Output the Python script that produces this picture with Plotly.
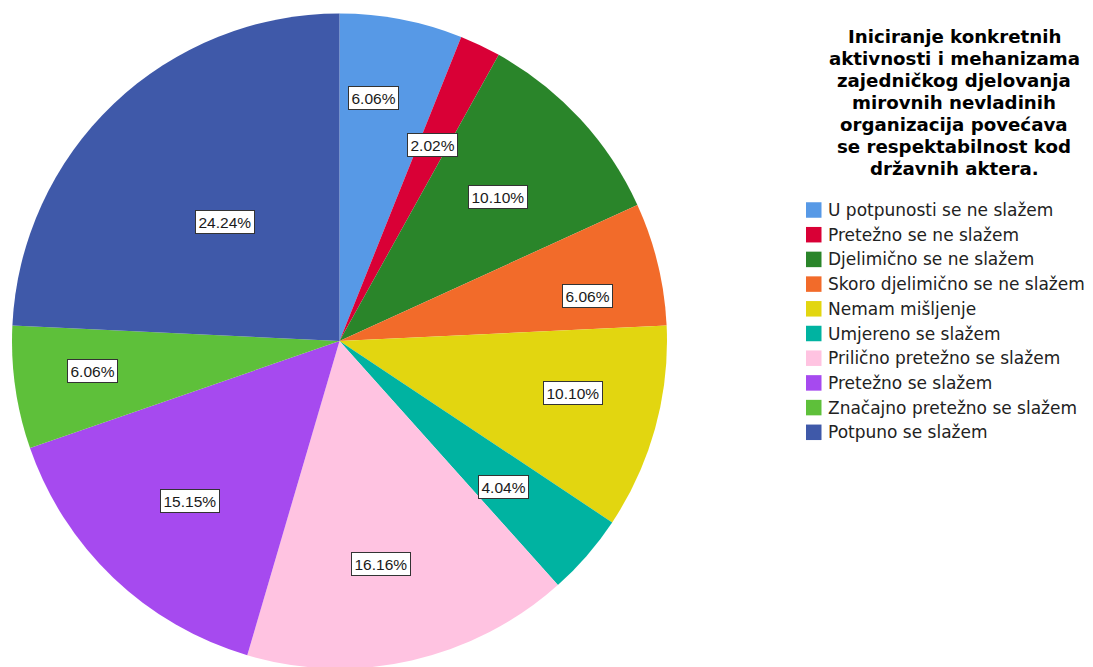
import math
import plotly.graph_objects as go

categories = [
    "U potpunosti se ne slažem",
    "Pretežno se ne slažem",
    "Djelimično se ne slažem",
    "Skoro djelimično se ne slažem",
    "Nemam mišljenje",
    "Umjereno se slažem",
    "Prilično pretežno se slažem",
    "Pretežno se slažem",
    "Značajno pretežno se slažem",
    "Potpuno se slažem",
]
percentages = [6.06, 2.02, 10.10, 6.06, 10.10, 4.04, 16.16, 15.15, 6.06, 24.24]
colors = ["#5799e6", "#d90036", "#2a852a", "#f26b2a", "#e2d610",
          "#00b3a1", "#ffc3e1", "#a64aef", "#5ec03a", "#3f59a9"]
title_lines = [
    "Iniciranje konkretnih",
    "aktivnosti i mehanizama",
    "zajedničkog djelovanja",
    "mirovnih nevladinih",
    "organizacija povećava",
    "se respektabilnost kod",
    "državnih aktera.",
]
# placement of the value boxes: fraction of radius and angular nudge (degrees)
label_r = [0.748, 0.663, 0.653, 0.769, 0.730, 0.672, 0.693, 0.669, 0.760, 0.504]
label_dtheta = [-2.9, 0.0, 0.5, 3.3, -2.8, 0.8, 2.3, -0.7, 1.2, -0.2]

W, H = 1093, 667
dom_x = [0.00366, 0.60293]
dom_y = [0.00975, 0.99175]

fig = go.Figure(go.Pie(
    labels=categories,
    values=percentages,
    sort=False,
    direction="clockwise",
    rotation=0,
    textinfo="none",
    marker=dict(colors=colors, line=dict(width=0)),
    domain=dict(x=dom_x, y=dom_y),
    hoverinfo="label+percent",
    showlegend=False,
))

# geometry of the pie in pixels
cx = (dom_x[0] + dom_x[1]) / 2 * W
cy = H - (dom_y[0] + dom_y[1]) / 2 * H
R = min((dom_x[1] - dom_x[0]) * W, (dom_y[1] - dom_y[0]) * H) / 2

FONT = "Liberation Sans, Arial, sans-serif"
WIDE = "DejaVu Sans, Verdana, sans-serif"

total = sum(percentages)
cum = 0.0
annotations = []
shapes = []
for v, f, dt in zip(percentages, label_r, label_dtheta):
    mid = (cum + v / 2) / total * 2 * math.pi + math.radians(dt)
    cum += v
    px = cx + R * f * math.sin(mid)
    py = cy - R * f * math.cos(mid)
    annotations.append(dict(
        x=px / W, y=1 - py / H, xref="paper", yref="paper",
        text=f"{v:.2f}%", showarrow=False,
        font=dict(family=FONT, size=15.5, color="#1a1a1a"),
        bgcolor="white", bordercolor="#333333", borderwidth=1, borderpad=2.5,
        xanchor="center", yanchor="middle",
    ))

# title, line by line
title_cx, title_y0, title_dy = 946, 29, 21.9
for i, line in enumerate(title_lines):
    annotations.append(dict(
        x=title_cx / W, y=1 - (title_y0 + i * title_dy) / H, xref="paper", yref="paper",
        text=f"<b>{line}</b>", showarrow=False,
        xanchor="center", yanchor="middle",
        font=dict(family=WIDE, size=18.2, color="#000000"),
    ))

# legend
leg_x0, leg_y0, leg_dy, sw = 798, 202, 24.7, 15.5
for i, (lab, col) in enumerate(zip(categories, colors)):
    yc = leg_y0 + i * leg_dy
    shapes.append(dict(
        type="rect", xref="paper", yref="paper",
        x0=leg_x0 / W, x1=(leg_x0 + sw) / W,
        y0=1 - (yc - sw / 2) / H, y1=1 - (yc + sw / 2) / H,
        fillcolor=col, line=dict(width=0),
    ))
    annotations.append(dict(
        x=(leg_x0 + sw + 4) / W, y=1 - yc / H, xref="paper", yref="paper",
        text=lab, showarrow=False, xanchor="left", yanchor="middle",
        font=dict(family=WIDE, size=17, color="#222222"),
    ))

fig.update_layout(
    width=W, height=H,
    margin=dict(l=0, r=0, t=0, b=0),
    paper_bgcolor="white",
    showlegend=False,
    annotations=annotations,
    shapes=shapes,
)

fig.write_html("out.html")
